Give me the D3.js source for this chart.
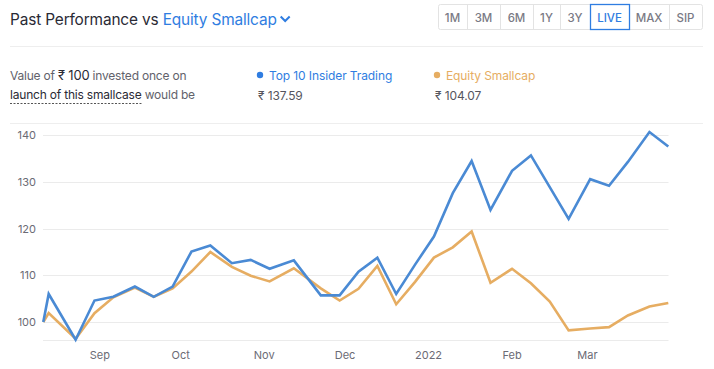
<!DOCTYPE html>
<html><head><meta charset="utf-8">
<script src="https://cdn.jsdelivr.net/npm/d3@7"></script>
<style>
html,body{margin:0;padding:0;background:#fff;}
svg{display:block;font-family:Inter, "Noto Sans", sans-serif;}
</style></head>
<body>
<svg id="c" width="714" height="369"></svg>
<script>
// ---- data ----
const dates = ["2021-08-11","2021-08-13","2021-08-23","2021-08-30","2021-09-06","2021-09-14","2021-09-21","2021-09-28",
"2021-10-05","2021-10-12","2021-10-20","2021-10-27","2021-11-03","2021-11-12","2021-11-22","2021-11-29",
"2021-12-06","2021-12-13","2021-12-20","2021-12-27","2022-01-03","2022-01-10","2022-01-17","2022-01-24",
"2022-02-01","2022-02-08","2022-02-15","2022-02-22","2022-03-02","2022-03-09","2022-03-16","2022-03-24","2022-03-31"];
const insiderValues = [100,106.0,96.2,104.6,105.4,107.6,105.4,107.6,115.1,116.4,112.6,113.3,111.4,113.2,105.7,105.7,
110.8,113.8,106.0,112.3,118.3,127.6,134.5,124.0,132.4,135.7,128.9,122.1,130.6,129.2,134.3,140.7,137.59];
const smallcapValues = [100,101.9,96.4,101.9,105.3,107.4,105.4,107.2,110.8,115.0,111.8,109.9,108.7,111.5,107.2,104.6,
107.1,112.0,103.8,108.6,113.8,116.0,119.4,108.4,111.4,108.3,104.4,98.2,98.6,98.9,101.4,103.3,104.07];
const yTicks = [100,110,120,130,140];
const seriesNames = ["Top 10 Insider Trading","Equity Smallcap"];
const finalValues = ["₹ 137.59","₹ 104.07"];
const periods = ["1M","3M","6M","1Y","3Y","LIVE","MAX","SIP"];

const BLUE = "#4a8ad4", ORANGE = "#e6ad62", LINKBLUE = "#2f7de1";
const svg = d3.select("#c");
const parse = d3.timeParse("%Y-%m-%d");
const pts = dates.map((d,i)=>({date:parse(d), a:insiderValues[i], b:smallcapValues[i]}));

// header
const t = svg.append("text").attr("x",10).attr("y",25).attr("font-size",15.4).attr("letter-spacing",-0.15).attr("fill","#2a2a35");
t.append("tspan").text("Past Performance vs ");
t.append("tspan").attr("fill",LINKBLUE).text("Equity Smallcap");
const tw = t.node().getComputedTextLength();
svg.append("path").attr("d",`M${10+tw+4},16.5 l4.5,4.5 l4.5,-4.5`).attr("fill","none").attr("stroke",LINKBLUE).attr("stroke-width",2);

// period buttons
const btnEdges = [438,467,500,533,560,590,629,669,702];
const bg = svg.append("g");
bg.append("rect").attr("x",438.5).attr("y",4.5).attr("width",264).attr("height",25).attr("rx",2).attr("fill","#fff").attr("stroke","#e3e3e3");
periods.forEach((p,i)=>{
  const x0=btnEdges[i], x1=btnEdges[i+1];
  if(i>0) bg.append("line").attr("x1",x0+0.5).attr("x2",x0+0.5).attr("y1",5).attr("y2",29).attr("stroke","#e3e3e3");
  bg.append("text").attr("x",(x0+x1)/2).attr("y",21.5).attr("text-anchor","middle").attr("font-size",11.5).attr("font-weight",500)
    .attr("fill", p==="LIVE"?LINKBLUE:"#7a7a85").text(p);
});
bg.append("rect").attr("x",590.5).attr("y",4.5).attr("width",39).attr("height",25).attr("fill","none").attr("stroke",LINKBLUE).attr("stroke-width",1.3);

svg.append("line").attr("x1",10).attr("x2",703).attr("y1",46.5).attr("y2",46.5).attr("stroke","#eeeeee");

// description
const d1 = svg.append("text").attr("x",10).attr("y",80).attr("font-size",12).attr("letter-spacing",-0.2).attr("fill","#62626b");
d1.append("tspan").text("Value of ");
d1.append("tspan").attr("fill","#2a2a35").attr("font-size",13).text("₹ 100");
d1.append("tspan").text(" invested once on");
const d2 = svg.append("text").attr("x",10).attr("y",99).attr("font-size",12).attr("letter-spacing",-0.2).attr("fill","#62626b");
const u = d2.append("tspan").attr("fill","#2a2a35").text("launch of this smallcase");
d2.append("tspan").text(" would be");
const uw = u.node().getComputedTextLength();
svg.append("line").attr("x1",10).attr("x2",10+uw).attr("y1",103.5).attr("y2",103.5).attr("stroke","#555").attr("stroke-dasharray","2,1.5");

// legend
const legX = [260,437];
[BLUE,ORANGE].forEach((c,i)=>{
  svg.append("circle").attr("cx",legX[i]).attr("cy",75).attr("r",3.2).attr("fill", i===0?LINKBLUE:ORANGE);
  svg.append("text").attr("x",legX[i]+9).attr("y",79.5).attr("font-size",12).attr("letter-spacing",-0.1).attr("fill", i===0?LINKBLUE:ORANGE).text(seriesNames[i]);
  svg.append("text").attr("x",legX[i]-2).attr("y",100).attr("font-size",12).attr("letter-spacing",-0.1).attr("fill","#55555e").text(finalValues[i]);
});

svg.append("line").attr("x1",10).attr("x2",703).attr("y1",123.5).attr("y2",123.5).attr("stroke","#eeeeee");

// scales
const x = d3.scaleTime().domain(d3.extent(pts,d=>d.date)).range([43.3,668.3]);
const y = d3.scaleLinear().domain([100,140]).range([322,135.3]);
const yBottom = y.invert(340);

// grid + y labels
const gy = svg.append("g");
yTicks.forEach(v=>{
  gy.append("line").attr("x1",43).attr("x2",668.5).attr("y1",Math.round(y(v))+0.5).attr("y2",Math.round(y(v))+0.5).attr("stroke","#ebebeb").attr("stroke-width",1);
  gy.append("text").attr("x",36).attr("y",y(v)+4).attr("text-anchor","end").attr("font-size",11).attr("fill","#6b6b75").text(v);
});
gy.append("line").attr("x1",43).attr("x2",668.5).attr("y1",Math.round(y(yBottom))+0.5).attr("y2",Math.round(y(yBottom))+0.5).attr("stroke","#ebebeb");

// x axis labels
const xt = x.ticks(d3.timeMonth.every(1));
const fmt = d=> d.getMonth()===0 ? d3.timeFormat("%Y")(d) : d3.timeFormat("%b")(d);
svg.append("g").selectAll("text").data(xt).join("text")
  .attr("x",d=>x(d)).attr("y",359).attr("text-anchor","middle").attr("font-size",11).attr("fill","#6b6b75").text(fmt);

// lines
const lineA = d3.line().x(d=>x(d.date)).y(d=>y(d.a));
const lineB = d3.line().x(d=>x(d.date)).y(d=>y(d.b));
svg.append("path").datum(pts).attr("d",lineB).attr("fill","none").attr("stroke",ORANGE).attr("stroke-width",2.6).attr("stroke-linejoin","miter");
svg.append("path").datum(pts).attr("d",lineA).attr("fill","none").attr("stroke",BLUE).attr("stroke-width",2.6).attr("stroke-linejoin","miter");
</script>
</body></html>
